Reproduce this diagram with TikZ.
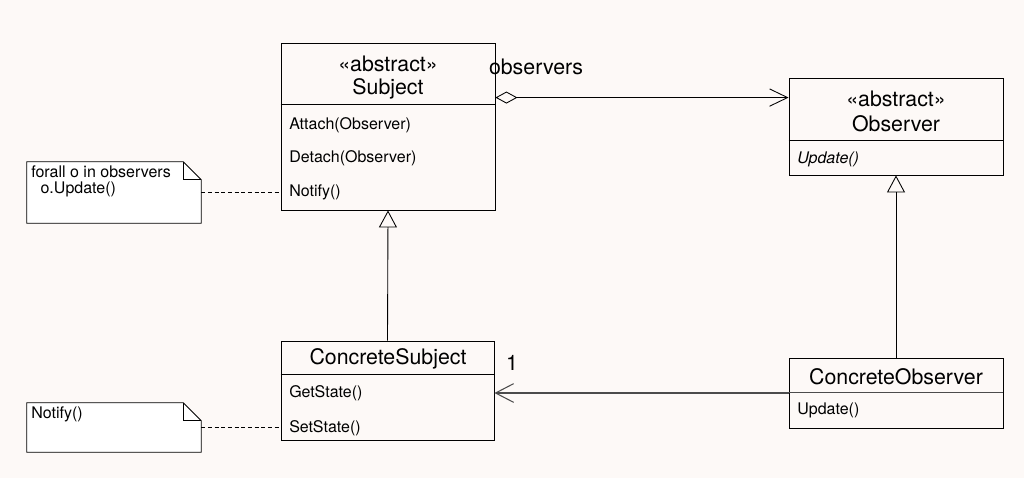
\documentclass[tikz,border=0pt]{standalone}
\usepackage{fontspec}
\setmainfont{TeX Gyre Heros}
\usetikzlibrary{arrows.meta, fit}

\definecolor{bgcol}{RGB}{253,249,247}

\begin{document}
\begin{tikzpicture}[x=0.75pt, y=-0.75pt,
	            classbox/.style={
	            draw,
	            line width=0.65pt,
	            inner sep=0pt
	            },
	            notebox/.style={
	            inner sep=0pt
	            },
	            title/.style={
	            font=\fontsize{16}{19}\selectfont,
	            inner sep=0pt
	            },
	            method/.style={
	            font=\fontsize{12}{12}\selectfont,
	            anchor=west,
	            inner sep=0pt
	            },
	            inherit/.style={-{Triangle[open, length=12.75pt, width=13.5pt]}, line width=0.65pt},
	            aggr/.style={{Diamond[open, length=16.5pt, width=9pt]}-{Straight Barb[length=13.5pt, width=13pt]}, line width=0.65pt},
	            assoc/.style={-{Straight Barb[length=13.5pt, width=14pt]}, line width=0.8pt, black!70},
	            notelink/.style={dash pattern=on 3pt off 2pt, line width=0.6pt}]

	        \fill[bgcol] (0,0) rectangle (1024,478);
	        \useasboundingbox (0,0) rectangle (1024,478);

	        % classes
	        \node[classbox, fit={(281,43) (495,210)}] (subject) {};
	        \node[classbox, fit={(789,78) (1003,175)}] (observer) {};
	        \node[classbox, fit={(281,341) (494,440)}] (csubj) {};
	        \node[classbox, fit={(789,358) (1003,428)}] (cobs) {};

	        \draw[line width=0.65pt] ([yshift=-46.5pt]subject.north west) -- ([yshift=-46.5pt]subject.north east);
	        \draw[line width=0.65pt] ([yshift=-47.25pt]observer.north west) -- ([yshift=-47.25pt]observer.north east);
	        \draw[line width=0.65pt] ([yshift=-25.5pt]csubj.north west) -- ([yshift=-25.5pt]csubj.north east);
	        \draw[line width=0.8pt,black!70] ([yshift=-26.25pt]cobs.north west) -- ([yshift=-26.25pt]cobs.north east);

	        \node[title] (subjstereo) at (388,64) {«abstract»};
	        \node[title] (subjname) at (388,89) {Subject};
	        \node[method] (attach) at (289,125) {Attach(Observer)};
	        \node[method] (detach) at (289,158) {Detach(Observer)};
	        \node[method] (notify) at (289,192) {Notify()};

	        \node[title] (obsstereo) at (896,99) {«abstract»};
	        \node[title] (obsname) at (896,124) {Observer};
	        \node[method] (update) at (797,159) {\itshape Update()};

	        \node[title] (csubjname) at (388,359) {ConcreteSubject};
	        \node[method] (getstate) at (289,393) {GetState()};
	        \node[method] (setstate) at (289,428) {SetState()};

	        \node[title] (cobsname) at (896,377) {ConcreteObserver};
	        \node[method] (cupdate) at (797,410) {Update()};

	        % notes
	        \node[notebox, fit={(27,162) (201,223)}] (note1) {};
	        \node[notebox, fit={(27,403) (201,452)}] (note2) {};

	        \draw[fill=white, line width=0.65pt] (note1.south west) -- (note1.north west) -- ([xshift=-13.5pt]note1.north east) -- ([yshift=-13.5pt]note1.north east) -- (note1.south east) -- cycle;
	        \draw[line width=0.5pt] ([xshift=-13.5pt]note1.north east) |- ([yshift=-13.5pt]note1.north east);
	        \draw[fill=white, line width=0.65pt] (note2.south west) -- (note2.north west) -- ([xshift=-13.5pt]note2.north east) -- ([yshift=-13.5pt]note2.north east) -- (note2.south east) -- cycle;
	        \draw[line width=0.5pt] ([xshift=-13.5pt]note2.north east) |- ([yshift=-13.5pt]note2.north east);

	        \node[method, anchor=north west, align=left] (note1text) at (31,166) {forall o in observers\\\hspace*{7pt}o.Update()};
	        \node[method, anchor=north west] (note2text) at (31,407) {Notify()};

	        \draw[notelink] (note1.east) -- (note1.east -| subject.west);
	        \draw[notelink] (note2.east) -- (note2.east -| csubj.west);

	        % relations
	        \draw[inherit] (csubj.north) -- (subject.south);
	        \draw[inherit] (cobs.north) -- (observer.south);

	        \coordinate (aggstart) at ([yshift=-41.25pt]subject.north east);
	        \draw[aggr] (aggstart) -- (aggstart -| observer.west);
	        \node[title] (aggrole) at (536,67) {observers};

	        \draw[assoc] (cobs.west) -- (cobs.west -| csubj.east);
	        \node[title] (assocmult) at (512,363) {1};

	    \end{tikzpicture}
\end{document}
